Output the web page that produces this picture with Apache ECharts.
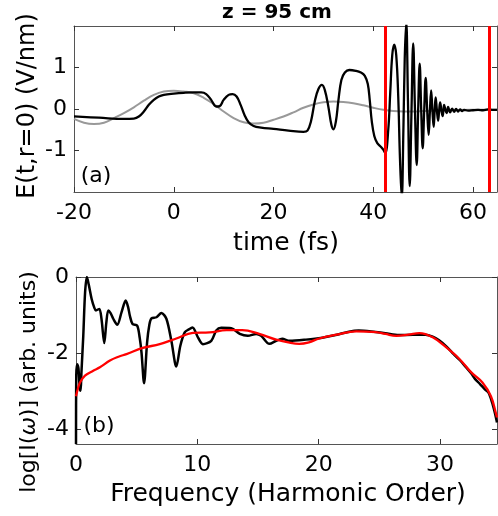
<!DOCTYPE html>
<html>
<head>
<meta charset="utf-8">
<script src="https://cdn.jsdelivr.net/npm/echarts@6.0.0/dist/echarts.min.js"></script>
<style>html,body{margin:0;padding:0;background:#fff}#c{width:498px;height:516px}</style>
</head>
<body>
<div id="c"></div>
<script>
// ---- Panel (a): time-domain field ----
var timeTicks = [-20, 0, 20, 40, 60];
var fieldTicks = [-1, 0, 1];
var fieldBlack = [[-20,-0.18],[-15,-0.21],[-10,-0.24],[-8,-0.23],[-7,-0.18],[-6,-0.06],[-5,0.1],[-4,0.22],[-3,0.3],[-2,0.34],[0,0.37],[2,0.39],[4,0.40],[5.5,0.40],[6.5,0.36],[7.5,0.22],[8.5,0.06],[9.2,0.07],[10,0.22],[11,0.34],[11.8,0.36],[12.6,0.3],[13.4,0.1],[14.2,-0.15],[15,-0.32],[16,-0.41],[17.5,-0.45],[20,-0.48],[23,-0.52],[26,-0.55],[26.8,-0.52],[27.5,-0.3],[28.3,0.2],[29,0.48],[29.7,0.58],[30.3,0.45],[31,0.05],[31.6,-0.38],[32,-0.49],[32.5,-0.3],[33,0.2],[33.6,0.7],[34.3,0.88],[35.2,0.94],[36.5,0.92],[37.5,0.88],[38.3,0.8],[38.9,0.6],[39.3,0.2],[39.7,-0.3],[40.2,-0.65],[40.8,-0.82],[41.6,-0.92],[42.0,-0.98],[42.4,-1.06],[43.0,-0.5],[43.4,0.4],[43.8,1.3],[44.2,1.55],[44.6,1.3],[45.0,0.3],[45.35,-1.2],[45.7,-2.15],[46.05,-0.4],[46.3,1.2],[46.6,2.1],[46.95,0.2],[47.3,-1.86],[47.65,-0.1],[48.0,1.58],[48.35,0.0],[48.7,-1.35],[49.0,0.0],[49.3,1.09],[49.6,0.0],[49.9,-0.95],[50.2,-0.05],[50.5,0.75],[50.8,-0.02],[51.1,-0.62],[51.35,-0.05],[51.6,0.45],[51.85,-0.03],[52.1,-0.43],[52.3,-0.05],[52.5,0.28],[52.75,-0.03],[53.0,-0.28],[53.2,-0.04],[53.4,0.16],[53.65,-0.03],[53.9,-0.17],[54.05,-0.04],[54.2,0.1],[54.45,-0.02],[54.7,-0.1],[55.0,0.05],[55.4,-0.08],[55.8,0.01],[56.2,-0.07],[56.6,0.0],[57.0,-0.06],[57.4,-0.01],[57.8,-0.05],[58.2,-0.02],[59,-0.04],[60,-0.03],[61,-0.02],[62,-0.03],[63,-0.01],[64,-0.02],[64.8,-0.02]];
var fieldGray = [[-20,-0.24],[-18,-0.33],[-16,-0.36],[-14,-0.33],[-12,-0.22],[-10,-0.1],[-8,0.04],[-6,0.2],[-4,0.34],[-2,0.42],[0,0.44],[2,0.42],[4,0.38],[6,0.27],[8,0.12],[10,-0.06],[12,-0.22],[14,-0.32],[16,-0.35],[18,-0.33],[20,-0.26],[22,-0.18],[24,-0.08],[26,0.03],[28,0.11],[30,0.16],[32,0.18],[34,0.17],[36,0.14],[38,0.09],[40,0.03],[42,-0.02],[44,-0.05],[46,-0.06],[48,-0.06],[50,-0.05],[52,-0.04],[55,-0.03],[60,-0.02],[64.8,-0.02]];
var windowEdges = [42.4, 63.3];

// ---- Panel (b): spectrum ----
var freqTicks = [0, 10, 20, 30];
var logTicks = [-4, -2, 0];
var specBlack = [[0,-4.4],[0.02,-2.6],[0.1,-2.3],[0.2,-2.4],[0.3,-2.9],[0.38,-3.0],[0.45,-2.5],[0.6,-1.55],[0.75,-0.4],[0.9,0],[1.05,-0.2],[1.29,-0.58],[1.5,-0.8],[1.64,-0.88],[1.92,-0.84],[2.1,-1.1],[2.33,-1.74],[2.5,-1.2],[2.66,-0.88],[2.85,-0.95],[3.07,-1.1],[3.4,-1.26],[3.75,-0.93],[4.1,-0.62],[4.3,-0.8],[4.44,-1.02],[4.66,-1.24],[5.04,-1.28],[5.25,-1.6],[5.4,-1.99],[5.61,-2.8],[5.86,-1.72],[6.05,-1.25],[6.22,-1.09],[6.63,-1.06],[7.04,-0.95],[7.45,-1.1],[7.86,-1.68],[8.27,-2.36],[8.6,-1.81],[8.96,-1.46],[9.3,-1.38],[9.6,-1.33],[10.05,-1.59],[10.46,-1.77],[11.15,-1.68],[11.56,-1.41],[11.97,-1.34],[12.8,-1.35],[13.5,-1.5],[14.16,-1.55],[14.85,-1.5],[15.26,-1.55],[15.94,-1.76],[16.5,-1.68],[17.0,-1.63],[17.6,-1.68],[18.95,-1.65],[20.3,-1.6],[21.4,-1.53],[22.5,-1.44],[23.3,-1.41],[24.7,-1.45],[25.5,-1.48],[26.6,-1.53],[27.8,-1.52],[28.8,-1.52],[29.4,-1.57],[29.9,-1.66],[30.5,-1.82],[31,-1.99],[31.6,-2.18],[32.1,-2.36],[32.6,-2.55],[32.9,-2.69],[33.3,-2.82],[33.7,-2.96],[34.0,-3.05],[34.3,-3.31],[34.5,-3.55],[34.7,-3.83]];
var specRed = [[0,-3.14],[0.15,-2.95],[0.33,-2.78],[0.74,-2.6],[1.42,-2.47],[1.97,-2.38],[2.8,-2.2],[3.5,-2.1],[4.16,-2.03],[5.5,-1.87],[6.9,-1.77],[8.27,-1.62],[9.64,-1.47],[11.0,-1.46],[12.4,-1.4],[13.7,-1.4],[15.1,-1.5],[16.5,-1.65],[17.6,-1.73],[18.4,-1.76],[19.2,-1.72],[20.05,-1.62],[21.5,-1.52],[23.1,-1.43],[24.7,-1.45],[25.5,-1.5],[26.4,-1.55],[27.4,-1.52],[28.3,-1.48],[29.4,-1.59],[30.5,-1.85],[31.6,-2.16],[32.6,-2.52],[33.5,-2.78],[34.2,-3.14],[34.6,-3.58],[34.7,-3.7]];

var FONT = 'DejaVu Sans';
var lineCol = '#555';
function xAx(grid, min, max, ticks, pos, labels) {
  return {
    type: 'value', gridIndex: grid, position: pos, min: min, max: max,
    axisLine: { show: true, onZero: false, lineStyle: { color: lineCol, width: 1 } },
    axisTick: { show: true, inside: true, length: 5, customValues: ticks, lineStyle: { color: '#333' } },
    axisLabel: { show: labels, customValues: ticks, margin: 10, color: '#000', fontSize: 22, fontFamily: FONT },
    splitLine: { show: false }
  };
}
function yAx(grid, min, max, ticks, pos, labels) {
  return {
    type: 'value', gridIndex: grid, position: pos, min: min, max: max,
    axisLine: { show: true, onZero: false, lineStyle: { color: lineCol, width: 1 } },
    axisTick: { show: true, inside: true, length: 5, customValues: ticks, lineStyle: { color: '#333' } },
    axisLabel: { show: labels, customValues: ticks, margin: 7, color: '#000', fontSize: 22, fontFamily: FONT },
    splitLine: { show: false }
  };
}
var chart = echarts.init(document.getElementById('c'), null, { renderer: 'canvas' });
chart.setOption({
  animation: false,
  backgroundColor: '#fff',
  grid: [
    { left: 74, top: 26, width: 423, height: 166 },
    { left: 76, top: 277, width: 421, height: 167 }
  ],
  xAxis: [
    xAx(0, -20, 64.8, timeTicks, 'bottom', true),
    xAx(0, -20, 64.8, timeTicks, 'top', false),
    xAx(1, 0, 34.7, freqTicks, 'bottom', true),
    xAx(1, 0, 34.7, freqTicks, 'top', false)
  ],
  yAxis: [
    yAx(0, -2, 2, fieldTicks, 'left', true),
    yAx(0, -2, 2, fieldTicks, 'right', false),
    yAx(1, -4.4, 0, logTicks, 'left', true),
    yAx(1, -4.4, 0, logTicks, 'right', false)
  ],
  series: [
    { type: 'line', xAxisIndex: 0, yAxisIndex: 0, data: fieldGray, showSymbol: false, smooth: 0.4, lineStyle: { color: '#999', width: 2 } },
    { type: 'line', xAxisIndex: 0, yAxisIndex: 0, data: fieldBlack, showSymbol: false, smooth: 0.4, lineStyle: { color: '#000', width: 2.3 } },
    { type: 'line', xAxisIndex: 0, yAxisIndex: 0, data: [], showSymbol: false,
      markLine: { silent: true, symbol: 'none', label: { show: false },
        lineStyle: { color: '#ff0000', width: 3, type: 'solid' },
        data: windowEdges.map(function (v) { return { xAxis: v }; }) } },
    { type: 'line', xAxisIndex: 2, yAxisIndex: 2, data: specBlack, showSymbol: false, smooth: 0.3, lineStyle: { color: '#000', width: 2.5 } },
    { type: 'line', xAxisIndex: 2, yAxisIndex: 2, data: specRed, showSymbol: false, smooth: 0.4, lineStyle: { color: '#ff0000', width: 2.3 } }
  ],
  graphic: [
    { type: 'text', x: 277, y: 13, style: { text: 'z = 95 cm', font: 'bold 20px ' + FONT, fill: '#000', align: 'center', verticalAlign: 'middle' } },
    { type: 'text', x: 286, y: 243, style: { text: 'time (fs)', font: '25px ' + FONT, fill: '#000', align: 'center', verticalAlign: 'middle' } },
    { type: 'text', x: 288, y: 494, style: { text: 'Frequency (Harmonic Order)', font: '25px ' + FONT, fill: '#000', align: 'center', verticalAlign: 'middle' } },
    { type: 'text', x: 28, y: 106, rotation: Math.PI / 2, style: { text: 'E(t,r=0) (V/nm)', font: '24px ' + FONT, fill: '#000', align: 'center', verticalAlign: 'middle' } },
    { type: 'text', x: 29, y: 382, rotation: Math.PI / 2, style: { rich: { i: { fontStyle: 'italic', font: 'italic 22px ' + FONT } }, text: 'log[I({i|ω})] (arb. units)', font: '22px ' + FONT, fill: '#000', align: 'center', verticalAlign: 'middle' } },
    { type: 'text', x: 96, y: 176, style: { text: '(a)', font: '22px ' + FONT, fill: '#000', align: 'center', verticalAlign: 'middle' } },
    { type: 'text', x: 99, y: 426, style: { text: '(b)', font: '22px ' + FONT, fill: '#000', align: 'center', verticalAlign: 'middle' } }
  ]
});
</script>
</body>
</html>
